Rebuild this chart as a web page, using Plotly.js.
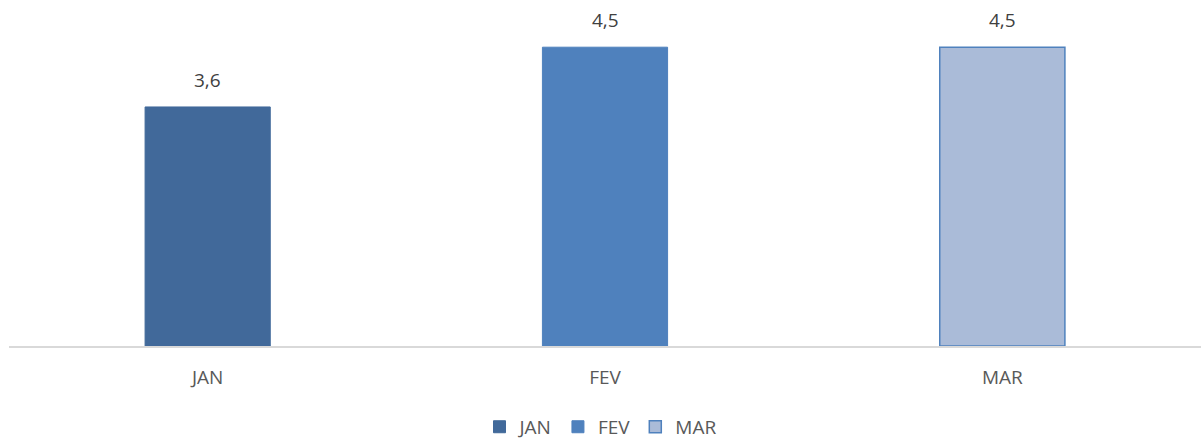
<!DOCTYPE html>
<html><head><meta charset="utf-8">
<script src="https://cdn.plot.ly/plotly-3.0.1.min.js"></script>
<style>html,body{margin:0;padding:0;background:#fff}#c{width:1201px;height:441px}</style>
</head><body><div id="c"></div>
<script>
const categories = ["JAN", "FEV", "MAR"];
const values = [3.6, 4.5, 4.5];
const colors = ["#41699a", "#4f81bd", "#aabbd8"];
const lineColors = ["#41699a", "#4f81bd", "#4f81bd"];

const traces = categories.map((c, i) => ({
  type: "bar",
  name: c,
  x: [c],
  y: [values[i]],
  width: 0.315,
  marker: {color: colors[i], line: {color: lineColors[i], width: i === 2 ? 1.5 : 1}},
  hoverinfo: "none"
}));

const annotations = categories.map((c, i) => ({
  x: c, y: values[i], xref: "x", yref: "y",
  text: values[i].toFixed(1).replace(".", ","),
  showarrow: false, yanchor: "bottom", yshift: 12,
  font: {family: "Open Sans, sans-serif", size: 19, color: "#404040"}
}));

const layout = {
  width: 1201, height: 441,
  margin: {l: 9, r: 0, t: 14, b: 95},
  paper_bgcolor: "#fff", plot_bgcolor: "#fff",
  barmode: "overlay",
  separators: ",.",
  showlegend: true,
  annotations: annotations,
  xaxis: {
    type: "category", automargin: false,
    categoryorder: "array", categoryarray: categories,
    showline: true, linecolor: "#d9d9d9", linewidth: 1.5,
    ticks: "outside", ticklen: 14, tickcolor: "rgba(0,0,0,0)",
    tickfont: {family: "Open Sans, sans-serif", size: 19, color: "#595959"},
    showgrid: false, zeroline: false, fixedrange: true
  },
  yaxis: {range: [0, 5], visible: false, showgrid: false, zeroline: false, fixedrange: true},
  legend: {
    orientation: "h", x: 0.5, xref: "container", xanchor: "center",
    y: 0.032, yref: "container", yanchor: "middle",
    font: {family: "Open Sans, sans-serif", size: 19, color: "#595959"},
    itemwidth: 30, tracegroupgap: 0
  }
};
Plotly.newPlot("c", traces, layout, {displayModeBar: false, staticPlot: true});
</script></body></html>
